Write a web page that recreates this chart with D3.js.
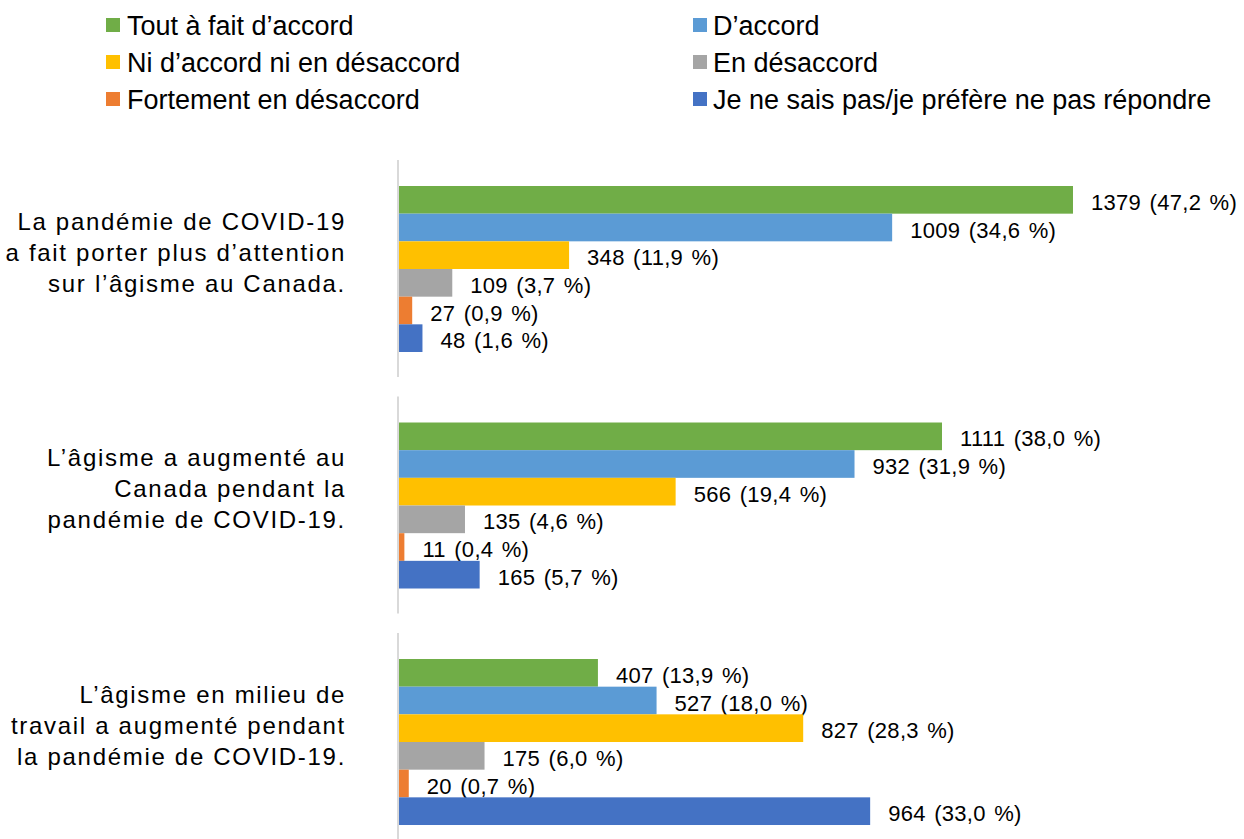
<!DOCTYPE html>
<html><head><meta charset="utf-8">
<script src="https://cdn.jsdelivr.net/npm/d3@7"></script>
<style>
html,body{margin:0;padding:0;background:#fff;}
svg{display:block;font-family:"Liberation Sans",Arial,sans-serif;}
</style></head>
<body>
<svg id="chart" width="1244" height="839"></svg>
<script>
const series = ["Tout à fait d’accord","D’accord","Ni d’accord ni en désaccord","En désaccord","Fortement en désaccord","Je ne sais pas/je préfère ne pas répondre"];
const colors = ["#70ad47","#5b9bd5","#ffc000","#a5a5a5","#ed7d31","#4472c4"];
const questions = [
  ["La pandémie de COVID-19","a fait porter plus d’attention","sur l’âgisme au Canada."],
  ["L’âgisme a augmenté au","Canada pendant la","pandémie de COVID-19."],
  ["L’âgisme en milieu de","travail a augmenté pendant","la pandémie de COVID-19."]
];
const counts = [
  [1379,1009,348,109,27,48],
  [1111,932,566,135,11,165],
  [407,527,827,175,20,964]
];
const percents = [
  [47.2,34.6,11.9,3.7,0.9,1.6],
  [38.0,31.9,19.4,4.6,0.4,5.7],
  [13.9,18.0,28.3,6.0,0.7,33.0]
];

const svg = d3.select("#chart");
const x = d3.scaleLinear().domain([0,1600]).range([399,1181]);
const yQ = d3.scaleBand().domain(d3.range(questions.length)).range([160,850]).paddingInner(0.0825);
const yS = d3.scaleBand().domain(d3.range(series.length)).range([26,192]);

// legend
const leg = svg.append("g");
series.forEach((s,i)=>{
  const col = i%2, row = Math.floor(i/2);
  const sx = col===0?106:693, tx = col===0?127:713;
  const by = 35 + row*37;
  leg.append("rect").attr("x",sx).attr("y",by-17).attr("width",14).attr("height",14).attr("fill",colors[i]);
  leg.append("text").attr("x",tx).attr("y",by).attr("font-size",27).attr("fill","#000").text(s);
});

questions.forEach((q,qi)=>{
  const top = yQ(qi);
  const g = svg.append("g").attr("transform",`translate(0,${top})`);
  g.append("line").attr("x1",398).attr("x2",398).attr("y1",0).attr("y2",yQ.bandwidth())
    .attr("stroke","#d9d9d9").attr("stroke-width",2);
  counts[qi].forEach((v,si)=>{
    g.append("rect").attr("x",x(0)).attr("y",yS(si)).attr("width",x(v)-x(0)).attr("height",yS.bandwidth())
      .attr("fill",colors[si]);
    g.append("text").attr("x",x(v)+18).attr("y",yS(si)+yS.bandwidth()/2+10)
      .attr("font-size",22).attr("letter-spacing","0.3px").attr("word-spacing","2px").attr("fill","#000")
      .text(`${v} (${percents[qi][si].toFixed(1).replace(".",",")} %)`);
  });
  const cy = yS(0) + (yS.range()[1]-yS.range()[0])/2 - 17;
  const t = g.append("text").attr("text-anchor","end").attr("font-size",24).attr("letter-spacing","1.7px").attr("fill","#000");
  q.forEach((line,li)=>{
    t.append("tspan").attr("x",346).attr("y",cy + (li-1)*31 + 8.5).text(line);
  });
});
</script>
</body></html>
